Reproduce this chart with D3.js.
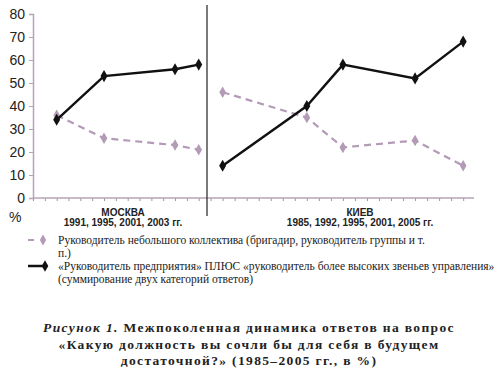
<!DOCTYPE html>
<html><head><meta charset="utf-8">
<script src="https://cdn.jsdelivr.net/npm/d3@7"></script>
<style>body{margin:0;background:#fff}svg{display:block}</style>
</head><body>
<svg id="c" width="500" height="369"></svg>
<script>
const yTicks = [0,10,20,30,40,50,60,70,80];
const moscowYears = [1991,1995,2001,2003];
const moscowSmall = [36,26,23,21];
const moscowHigh = [34,53,56,58];
const kievYears = [1985,1992,1995,2001,2005];
const kievSmall = [46,35,22,25,14];
const kievHigh = [14,40,58,52,68];
const moscowLabel = ["МОСКВА","1991, 1995, 2001, 2003  гг."];
const kievLabel = ["КИЕВ","1985, 1992, 1995, 2001, 2005 гг."];
const legendSmall = ["Руководитель небольшого коллектива (бригадир, руководитель группы  и т.","п.)"];
const legendHigh = ["«Руководитель предприятия» ПЛЮС «руководитель более высоких звеньев управления»","(суммирование двух категорий ответов)"];
const captionLines = ["Межпоколенная динамика ответов на вопрос","«Какую должность вы сочли бы для себя в будущем","достаточной?» (1985–2005 гг., в %)"];

const svg = d3.select("#c");
const y = d3.scaleLinear().domain([0,80]).range([198,14]);
const xM = d3.scaleLinear().domain([1989,2003.7]).range([33,207]);
const xK = d3.scaleLinear().domain([1983.7,2005.9]).range([207,474]);
const axisCol = "#b7a3b8", dashCol = "#b39ab6";
const sans = "'Liberation Sans', Arial, sans-serif";
const serif = "'Liberation Serif', 'Times New Roman', serif";

// y axis
const ya = svg.append("g").attr("transform","translate(33,0)")
  .call(d3.axisLeft(y).tickValues(yTicks).tickSize(4).tickPadding(4));
ya.select(".domain").attr("stroke",axisCol).attr("stroke-width",1.5);
ya.selectAll(".tick line").attr("stroke",axisCol);
ya.selectAll("text").attr("font-family",sans).attr("font-size",14).attr("fill","#222");

// x axes
const xa1 = svg.append("g").attr("transform","translate(0,198)")
  .call(d3.axisBottom(xM).tickValues(d3.range(1989,2004)).tickSize(3).tickFormat(""));
const xa2 = svg.append("g").attr("transform","translate(0,198)")
  .call(d3.axisBottom(xK).tickValues(d3.range(1984,2006)).tickSize(3).tickFormat(""));
[xa1,xa2].forEach(a=>{a.select(".domain").remove();a.selectAll(".tick line").attr("stroke","#999");});
svg.append("line").attr("x1",xM.range()[0]).attr("x2",xK.range()[1]).attr("y1",198).attr("y2",198).attr("stroke",axisCol).attr("stroke-width",1.5);

// separator
svg.append("line").attr("x1",207).attr("x2",207).attr("y1",5).attr("y2",216).attr("stroke","#222").attr("stroke-width",1.2);

function series(xs, years, vals, dashed){
  const pts = years.map((yr,i)=>[xs(yr), y(vals[i])]);
  svg.append("path").attr("d", d3.line()(pts)).attr("fill","none")
    .attr("stroke", dashed?dashCol:"#111").attr("stroke-width", dashed?2.2:2.4)
    .attr("stroke-dasharray", dashed?"7,5":null);
  svg.selectAll(null).data(pts).enter().append("path")
    .attr("transform",d=>`translate(${d[0]},${d[1]})`)
    .attr("d", d3.symbol(d3.symbolDiamond, dashed?38:42)())
    .attr("fill", dashed?dashCol:"#111");
}
series(xM, moscowYears, moscowSmall, true);
series(xK, kievYears, kievSmall, true);
series(xM, moscowYears, moscowHigh, false);
series(xK, kievYears, kievHigh, false);

// labels
svg.append("text").attr("x",9).attr("y",222).text("%").attr("font-family",sans).attr("font-size",14).attr("fill","#222");
[[moscowLabel,123],[kievLabel,360]].forEach(([lab,cx])=>{
  lab.forEach((t,i)=>svg.append("text").attr("x",cx).attr("y",216+i*9.5).attr("text-anchor","middle")
    .attr("font-family",sans).attr("font-weight","bold").attr("font-size",10).attr("fill","#222").text(t));
});

// legend
svg.append("line").attr("x1",28).attr("x2",34).attr("y1",240).attr("y2",240).attr("stroke",dashCol).attr("stroke-width",2);
svg.append("path").attr("transform","translate(43,240)").attr("d",d3.symbol(d3.symbolDiamond,34)()).attr("fill",dashCol);
svg.append("line").attr("x1",28).attr("x2",44).attr("y1",266).attr("y2",266).attr("stroke","#111").attr("stroke-width",2.5);
svg.append("path").attr("transform","translate(45,266)").attr("d",d3.symbol(d3.symbolDiamond,38)()).attr("fill","#111");
legendSmall.forEach((t,i)=>svg.append("text").attr("x",58).attr("y",244+i*12.5).attr("font-family",serif).attr("font-size",11.5).attr("fill","#222").text(t));
legendHigh.forEach((t,i)=>svg.append("text").attr("x",58).attr("y",270+i*13).attr("font-family",serif).attr("font-size",11.5).attr("fill","#222").text(t));

// caption
captionLines.forEach((t,i)=>{
  const tx = svg.append("text").attr("x",249).attr("y",332+i*16.5).attr("text-anchor","middle")
    .attr("font-family",serif).attr("font-weight","bold").attr("font-size",13.5).attr("letter-spacing",1.35).attr("fill","#222");
  if(i==0){ tx.append("tspan").attr("font-style","italic").text("Рисунок 1. "); }
  tx.append("tspan").text(t);
});
</script>
</body></html>
